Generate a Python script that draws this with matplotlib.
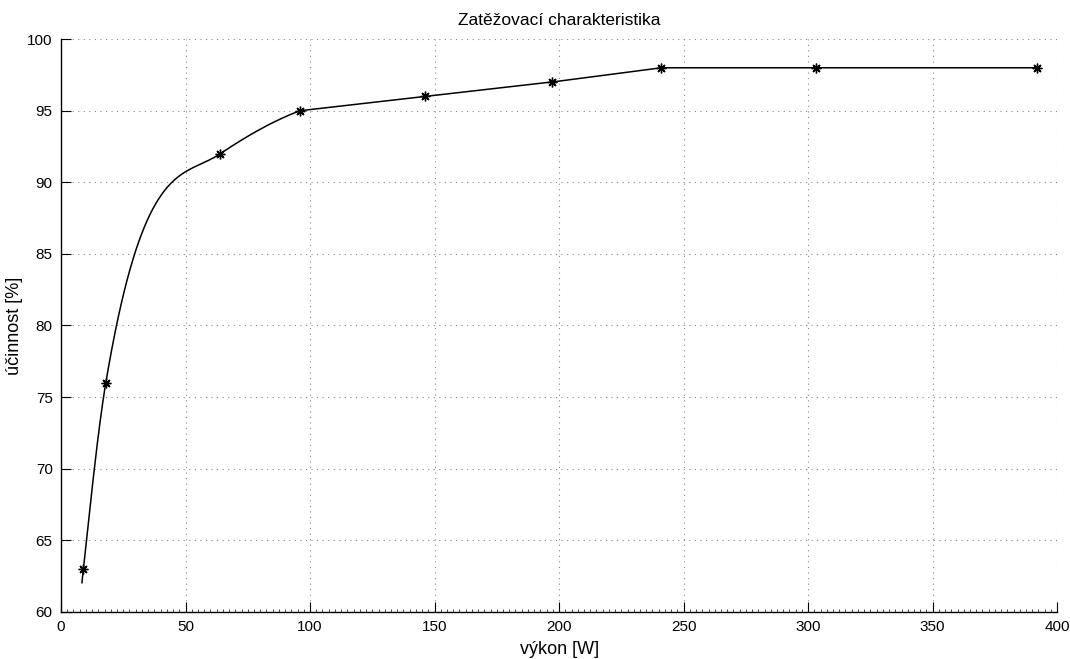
import numpy as np
import matplotlib
matplotlib.use("Agg")
import matplotlib.pyplot as plt

# measured points
vykon = [9, 18, 64, 96, 146, 197, 241, 303, 392]
ucinnost = [63, 76, 92, 95, 96, 97, 98, 98, 98]

x_ticks = [0, 50, 100, 150, 200, 250, 300, 350, 400]
y_ticks = [60, 65, 70, 75, 80, 85, 90, 95, 100]


def hermite(x0, x1, y0, y1, m0, m1, xi):
    h = x1 - x0
    t = (xi - x0) / h
    return ((2 * t**3 - 3 * t**2 + 1) * y0 + (t**3 - 2 * t**2 + t) * h * m0
            + (-2 * t**3 + 3 * t**2) * y1 + (t**3 - t**2) * h * m1)


def curve(x, y, xi):
    # smooth over the steep start (up to 4th point), straight lines after
    x = np.asarray(x, float)
    y = np.asarray(y, float)
    h = np.diff(x)
    d = np.diff(y) / h

    def bessel(k):
        return (h[k] * d[k - 1] + h[k - 1] * d[k]) / (h[k - 1] + h[k])

    def harm(k):
        w1 = 2 * h[k] + h[k - 1]
        w2 = h[k] + 2 * h[k - 1]
        return (w1 + w2) / (w1 / d[k - 1] + w2 / d[k])

    m = [d[0] + (d[0] - d[1]) * h[0] / (h[0] + h[1]), bessel(1), harm(2), bessel(3)]
    # monotone limit
    for k in range(3):
        a, b = m[k] / d[k], m[k + 1] / d[k]
        if a * a + b * b > 9:
            tau = 3 / np.sqrt(a * a + b * b)
            m[k], m[k + 1] = tau * a * d[k], tau * b * d[k]

    yi = np.interp(xi, x, y)
    for k in range(3):
        lo = -np.inf if k == 0 else x[k]
        s = (xi > lo) & (xi <= x[k + 1])
        yi[s] = hermite(x[k], x[k + 1], y[k], y[k + 1], m[k], m[k + 1], xi[s])
    return yi


plt.rcParams['font.family'] = ['Liberation Sans', 'DejaVu Sans']

fig = plt.figure(figsize=(10.7, 6.59), dpi=100)
ax = fig.add_axes([0.057, 0.0717, 0.931, 0.8689])

xs = np.linspace(vykon[0] - 0.6, vykon[-1], 1000)
ax.plot(xs, curve(vykon, ucinnost, xs), 'k-', lw=1.1)
ax.plot(vykon, ucinnost, 'k', linestyle='none', marker=(8, 2, 0),
        markersize=7, markeredgewidth=1.0)

ax.set_xlim(0, 400)
ax.set_ylim(60, 100)
ax.set_xticks(x_ticks)
ax.set_yticks(y_ticks)
ax.set_xticks(np.arange(0, 401, 2.5), minor=True)
ax.tick_params(direction='in', length=7, width=0.8, labelsize=11, pad=6)
ax.tick_params(axis='x', which='minor', direction='in', length=2, width=0.5)
ax.grid(True, which='major', linestyle=(0, (1, 4)), color='#888888', lw=0.8)
for s in ['top', 'right']:
    ax.spines[s].set_visible(False)
ax.spines['left'].set_linewidth(1)
ax.spines['bottom'].set_linewidth(1)

ax.set_title('Zatěžovací charakteristika', fontsize=12.5, pad=10)
ax.set_xlabel('výkon [W]', fontsize=13, labelpad=5)
ax.set_ylabel('účinnost [%]', fontsize=13, labelpad=3)

fig.savefig('out.png', dpi=100)
